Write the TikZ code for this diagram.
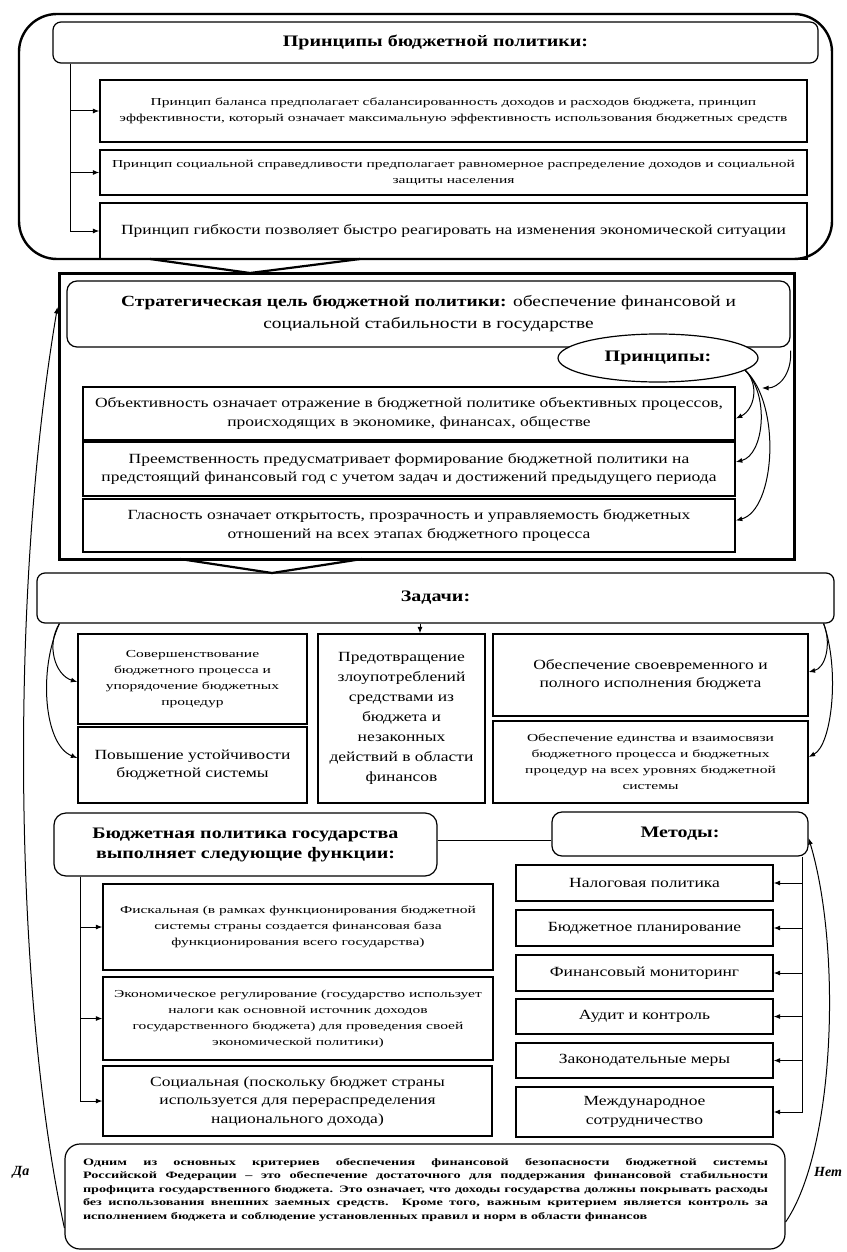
\documentclass[tikz,border=0pt]{standalone}
\usepackage{fontspec}
\setmainfont{Liberation Serif}
\newfontfamily\fA{Liberation Serif}[FakeStretch=1.25]
\newfontfamily\fB{Liberation Serif}[FakeStretch=1.45]
\usetikzlibrary{arrows.meta,shapes.geometric}
\newcommand{\txh}{\fA\bfseries\fontsize{16}{20}\selectfont}
\newcommand{\txg}{\fA\fontsize{15.5}{22}\selectfont}
\newcommand{\txm}{\fA\fontsize{14}{18.5}\selectfont}
\newcommand{\txmm}{\fA\fontsize{14}{20}\selectfont}
\newcommand{\txs}{\fB\fontsize{10.7}{16}\selectfont}
\newcommand{\txb}{\fB\bfseries\fontsize{9.8}{13.5}\selectfont}
\newcommand{\txl}{\bfseries\itshape\fontsize{14}{16}\selectfont}
\tikzset{
  bx/.style={draw, line width=1.2pt, inner sep=2pt, align=center},
  rbx/.style={bx, rounded corners=#1},
  wh/.style 2 args={minimum width=#1, minimum height=#2},
  arr/.style={-{Latex[length=6.5pt,width=5pt]}, line width=1pt},
  ln/.style={line width=1pt},
  chev/.style={line width=2.2pt, line join=miter},
  lab/.style={font=\txl, inner sep=0pt},
}
\begin{document}
\begin{tikzpicture}[x=1pt,y=-1pt]
\useasboundingbox (0,0) rectangle (846,1252);
% ---------- top group
\node[bx, rounded corners=38pt, line width=2.4pt, wh={813pt}{245pt}] (topgrp) at (425.5,136.5) {};
\node[rbx=8pt, wh={765pt}{41pt}, font=\txh] (hp) at (435.5,42.5) {Принципы бюджетной политики:};
\node[bx, wh={707pt}{62pt}, font=\txs] (p1) at (453.5,111) {Принцип баланса предполагает сбалансированность доходов и расходов бюджета, принцип\\ эффективности, который означает максимальную эффективность использования бюджетных средств};
\node[bx, wh={707pt}{45pt}, font=\txs] (p2) at (453.5,172.5) {Принцип социальной справедливости предполагает равномерное распределение доходов и социальной\\ защиты населения};
\node[bx, wh={707pt}{56pt}, font=\txm] (p3) at (453.5,231) {Принцип гибкости позволяет быстро реагировать на изменения экономической ситуации};
\coordinate (pl) at ([xshift=18pt]hp.south west);
\draw[arr] (pl) |- (p3.west);
\draw[arr] (pl |- p1.west) -- (p1.west);
\draw[arr] (pl |- p2.west) -- (p2.west);
\draw[chev] (150,259) -- (250,273) -- (360,259);
% ---------- strategic group
\node[bx, line width=3pt, wh={735pt}{286pt}] (sg) at (426.5,416) {};
\node[rbx=10pt, wh={723pt}{66pt}, font=\txg] (sgoal) at (428.5,314) {\textbf{Стратегическая цель бюджетной политики:} обеспечение финансовой и\\ социальной стабильности в государстве};
\node[ellipse, draw, fill=white, line width=1.2pt, wh={200pt}{48pt}, inner sep=0pt, font=\txh] (ell) at (658,358) {Принципы:};
\node[bx, line width=1.6pt, wh={652pt}{53pt}, font=\txm] (sa) at (409,413.5) {Объективность означает отражение в бюджетной политике объективных процессов,\\ происходящих в экономике, финансах, обществе};
\node[bx, line width=1.6pt, wh={652pt}{54pt}, font=\txm] (sb) at (409,469) {Преемственность предусматривает формирование бюджетной политики на\\ предстоящий финансовый год с учетом задач и достижений предыдущего периода};
\node[bx, line width=1.6pt, wh={652pt}{53pt}, font=\txm] (sc) at (409,525.5) {Гласность означает открытость, прозрачность и управляемость бюджетных\\ отношений на всех этапах бюджетного процесса};
\draw[arr] (ell.-8) .. controls (760,385) and (754,410) .. ([yshift=-5pt]sa.east);
\draw[arr] (ell.-8) .. controls (770,395) and (764,455) .. ([yshift=7pt]sb.east);
\draw[arr] (ell.-8) .. controls (782,405) and (775,510) .. ([yshift=5pt]sc.east);
\coordinate (pin) at (762,388);
\draw[arr] ([yshift=-3pt]sgoal.south east) .. controls (792,375) and (778,388) .. (pin);
\draw[chev] (180,559) -- (272,573) -- (362,559);
% ---------- tasks
\node[rbx=8pt, wh={797pt}{50pt}, font=\txh] (zh) at (435.5,598) {Задачи:};
\node[bx, wh={229pt}{90pt}, font=\txs] (zl1) at (192.5,679) {Совершенствование\\ бюджетного процесса и\\ упорядочение бюджетных\\ процедур};
\node[bx, wh={229pt}{76pt}, font=\txm] (zl2) at (192.5,765) {Повышение устойчивости\\ бюджетной системы};
\node[bx, wh={167pt}{169pt}, font=\txmm] (zm) at (401.5,718.5) {Предотвращение\\ злоупотреблений\\ средствами из\\ бюджета и\\ незаконных\\ действий в области\\ финансов};
\node[bx, wh={315pt}{82pt}, font=\txm] (zr1) at (650.5,675) {Обеспечение своевременного и\\ полного исполнения бюджета};
\node[bx, wh={315pt}{82pt}, font=\txs] (zr2) at (650.5,762) {Обеспечение единства и взаимосвязи\\ бюджетного процесса и бюджетных\\ процедур на всех уровнях бюджетной\\ системы};
\coordinate (zt) at ([xshift=-15.5pt]zh.south);
\draw[arr] (zt) -- (zt |- zm.north);
\coordinate (zlc) at ([xshift=23pt]zh.south west);
\draw[arr] (zlc) .. controls (46,645) and (55,675) .. ([yshift=-3pt]zl1.west);
\draw[arr] (zlc) .. controls (38,670) and (44,745) .. ([yshift=7pt]zl2.west);
\coordinate (zrc) at ([xshift=-11pt]zh.south east);
\draw[arr] (zrc) .. controls (832,645) and (825,668) .. ([yshift=3pt]zr1.east);
\draw[arr] (zrc) .. controls (840,670) and (832,745) .. ([yshift=5pt]zr2.east);
% ---------- functions and methods
\node[rbx=12pt, wh={383pt}{63pt}, font=\txh] (fh) at (245.5,844.5) {Бюджетная политика государства\\ выполняет следующие функции:};
\node[rbx=10pt, wh={256pt}{44pt}, font=\txh] (mh) at (680,834) {Методы:};
\draw[ln] ([yshift=4.5pt]fh.east) -- ([yshift=4.5pt]fh.east -| mh.west);
\node[bx, wh={390pt}{86pt}, font=\txs] (f1) at (298,927) {Фискальная (в рамках функционирования бюджетной\\ системы страны создается финансовая база\\ функционирования всего государства)};
\node[bx, wh={390pt}{83pt}, font=\txs] (f2) at (298,1018.5) {Экономическое регулирование (государство использует\\ налоги как основной источник доходов\\ государственного бюджета) для проведения своей\\ экономической политики)};
\node[bx, wh={389pt}{70pt}, font=\txm] (f3) at (297.5,1101) {Социальная (поскольку бюджет страны\\ используется для перераспределения\\ национального дохода)};
\coordinate (fl) at ([xshift=27pt]fh.south west);
\draw[arr] (fl) |- (f3.west);
\draw[arr] (fl |- f1.west) -- (f1.west);
\draw[arr] (fl |- f2.west) -- (f2.west);
\node[bx, wh={257pt}{36pt}, font=\txm] (m1) at (644.5,883) {Налоговая политика};
\node[bx, wh={257pt}{36pt}, font=\txm] (m2) at (644.5,928) {Бюджетное планирование};
\node[bx, wh={257pt}{36pt}, font=\txm] (m3) at (644.5,973) {Финансовый мониторинг};
\node[bx, wh={257pt}{35pt}, font=\txm] (m4) at (644.5,1016.5) {Аудит и контроль};
\node[bx, wh={257pt}{35pt}, font=\txm] (m5) at (644.5,1060.5) {Законодательные меры};
\node[bx, wh={257pt}{50pt}, font=\txm] (m6) at (644.5,1112) {Международное\\ сотрудничество};
\coordinate (ml) at ([xshift=-6pt]mh.south east);
\draw[arr] (ml) |- (m6.east);
\foreach \m in {m1,m2,m3,m4,m5} { \draw[arr] (ml |- \m.east) -- (\m.east); }
% ---------- bottom
\node[rbx=15pt, wh={720pt}{105pt}] (bb) at (425,1196.5) {};
\node[inner sep=0pt, font=\txb, align=left] (bbt) at (425.5,1190) {\makebox[685pt][s]{Одним из основных критериев обеспечения финансовой безопасности бюджетной системы}\\
\makebox[685pt][s]{Российской Федерации – это обеспечение достаточного для поддержания финансовой стабильности}\\
\makebox[685pt][s]{профицита государственного бюджета. Это означает, что доходы государства должны покрывать расходы}\\
\makebox[685pt][s]{без использования внешних заемных средств. Кроме того, важным критерием является контроль за}\\
\makebox[685pt][l]{исполнением бюджета и соблюдение установленных правил и норм в области финансов}};
\draw[arr] ([yshift=-31.5pt]bb.west) .. controls (15,1000) and (8,600) .. ([yshift=109pt]sg.west);
\draw[arr] ([yshift=-25.5pt]bb.east) .. controls (835,1150) and (842,950) .. ([yshift=-4pt]mh.east);
\node[lab] (da) at (21,1172) {Да};
\node[lab] (net) at (828,1172) {Нет};
\end{tikzpicture}
\end{document}
